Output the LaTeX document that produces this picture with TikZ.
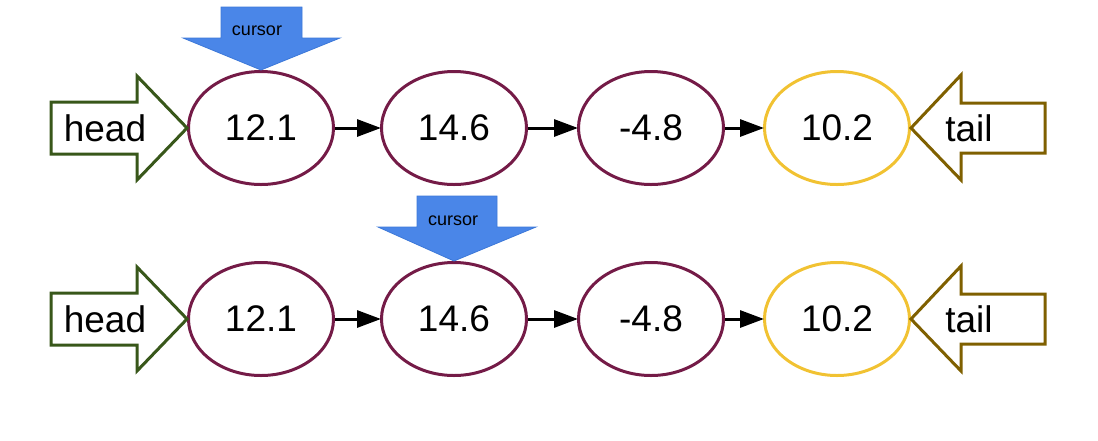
\documentclass[tikz,border=0pt]{standalone}
\usepackage{fontspec}
\setmainfont{Liberation Sans}
\usetikzlibrary{arrows.meta,shapes.geometric}
\definecolor{maroon}{HTML}{741B47}
\definecolor{gold}{HTML}{F1C232}
\definecolor{headgreen}{HTML}{38571A}
\definecolor{tailbrown}{HTML}{7F6000}
\definecolor{cursorblue}{HTML}{4A86E8}
\definecolor{cursorline}{HTML}{3C78D8}
\tikzset{
  elem/.style={ellipse, draw=maroon, line width=3pt, minimum width=145pt, minimum height=113pt, inner sep=0pt, font=\fontsize{37}{44}\selectfont},
  lastelem/.style={elem, draw=gold},
  link/.style={line width=3pt, -{Triangle[length=24pt,width=17pt]}, shorten >=-1pt},
  headarrow/.style={draw=headgreen, line width=3pt, fill=white, line join=miter},
  tailarrow/.style={draw=tailbrown, line width=3pt, fill=white, line join=miter},
  cursorarrow/.style={fill=cursorblue, draw=cursorline, line width=0.8pt},
  bigtext/.style={font=\fontsize{37}{44}\selectfont, inner sep=0pt},
  smalltext/.style={font=\fontsize{18}{21}\selectfont, inner sep=0pt}
}
\begin{document}
\begin{tikzpicture}[x=1pt,y=-1pt]
\useasboundingbox (0,0) rectangle (1098,440);
% ---------- top row ----------
\node[elem] (a1) at (261,128) {12.1};
\node[elem] (a2) at (454,128) {14.6};
\node[elem] (a3) at (651,128) {-4.8\hspace{12pt}};
\node[lastelem] (a4) at (837,128) {10.2};
\draw[link] (a1.east) -- (a2.west);
\draw[link] (a2.east) -- (a3.west);
\draw[link] (a3.east) -- (a4.west);
\draw[headarrow] (51,102) -- (137,102) -- (137,76) -- (a1.west) -- (137,180) -- (137,154) -- (51,154) -- cycle;
\node[bigtext] (ha) at (105,128) {head};
\draw[tailarrow] (a4.east) -- (961,75) -- (961,103) -- (1045,103) -- (1045,153) -- (961,153) -- (961,180) -- cycle;
\node[bigtext] (ta) at (969,128) {tail};
\draw[cursorarrow] (221,7) -- (302,7) -- (302,38) -- (340,38) -- (a1.north) -- (183,38) -- (221,38) -- cycle;
\node[smalltext] (ca) at (257,31) {cursor};
% ---------- bottom row ----------
\node[elem] (b1) at (261,319) {12.1};
\node[elem] (b2) at (454,319) {14.6};
\node[elem] (b3) at (651,319) {-4.8\hspace{12pt}};
\node[lastelem] (b4) at (837,319) {10.2};
\draw[link] (b1.east) -- (b2.west);
\draw[link] (b2.east) -- (b3.west);
\draw[link] (b3.east) -- (b4.west);
\draw[headarrow] (51,293) -- (137,293) -- (137,267) -- (b1.west) -- (137,371) -- (137,345) -- (51,345) -- cycle;
\node[bigtext] (hb) at (105,319) {head};
\draw[tailarrow] (b4.east) -- (961,266) -- (961,294) -- (1045,294) -- (1045,344) -- (961,344) -- (961,371) -- cycle;
\node[bigtext] (tb) at (969,319) {tail};
\draw[cursorarrow] (417,196) -- (497,196) -- (497,227) -- (536,227) -- (b2.north) -- (378,227) -- (417,227) -- cycle;
\node[smalltext] (cb) at (453,221) {cursor};
\end{tikzpicture}
\end{document}
